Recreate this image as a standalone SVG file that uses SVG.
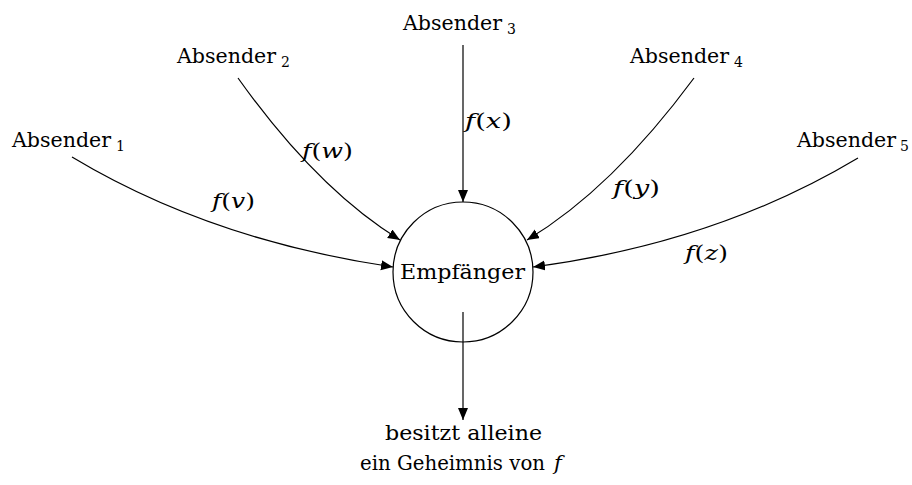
<svg xmlns="http://www.w3.org/2000/svg" width="912" height="485" viewBox="0 0 912 485">
<style>
.t{font-family:'DejaVu Serif','Liberation Serif',serif;font-size:21px;fill:#000}
.s{font-family:'DejaVu Serif','Liberation Serif',serif;font-size:14px;fill:#000}
.i{font-style:italic}
.c{fill:none;stroke:#000;stroke-width:1.2}
</style>
<defs>
<marker id="ah" markerUnits="userSpaceOnUse" markerWidth="14" markerHeight="12" refX="12" refY="5" orient="auto">
<path d="M0,0 L12,5 L0,10 Z" fill="#000"/>
</marker>
</defs>
<rect width="912" height="485" fill="#fff"/>
<g id="connectors">
<path class="c" d="M72,157 Q210,240 393,267" marker-end="url(#ah)"/>
<path class="c" d="M238,78 Q317,189 400,240" marker-end="url(#ah)"/>
<path class="c" d="M463,45 L463,202" marker-end="url(#ah)"/>
<path class="c" d="M694,78 Q612,189 527,240" marker-end="url(#ah)"/>
<path class="c" d="M858,158 Q716,243 533,267" marker-end="url(#ah)"/>
<path class="c" d="M463,312 L463,420" marker-end="url(#ah)"/>
</g>
<g id="labels">
<text class="t" x="212" y="208" textLength="43" lengthAdjust="spacingAndGlyphs"><tspan class="i">f</tspan>(<tspan class="i">v</tspan>)</text>
<text class="t" x="302" y="158" textLength="51" lengthAdjust="spacingAndGlyphs"><tspan class="i">f</tspan>(<tspan class="i">w</tspan>)</text>
<text class="t" x="465" y="128" textLength="47" lengthAdjust="spacingAndGlyphs"><tspan class="i">f</tspan>(<tspan class="i">x</tspan>)</text>
<text class="t" x="613" y="195" textLength="47" lengthAdjust="spacingAndGlyphs"><tspan class="i">f</tspan>(<tspan class="i">y</tspan>)</text>
<text class="t" x="685" y="260" textLength="43" lengthAdjust="spacingAndGlyphs"><tspan class="i">f</tspan>(<tspan class="i">z</tspan>)</text>
</g>
<g id="absender1">
<text class="t" x="12" y="147" textLength="99" lengthAdjust="spacingAndGlyphs">Absender</text>
<text class="s" x="116" y="151">1</text>
</g>
<g id="absender2">
<text class="t" x="177" y="63" textLength="99" lengthAdjust="spacingAndGlyphs">Absender</text>
<text class="s" x="281" y="67">2</text>
</g>
<g id="absender3">
<text class="t" x="403" y="30" textLength="99" lengthAdjust="spacingAndGlyphs">Absender</text>
<text class="s" x="507" y="34">3</text>
</g>
<g id="absender4">
<text class="t" x="630" y="63" textLength="99" lengthAdjust="spacingAndGlyphs">Absender</text>
<text class="s" x="734" y="67">4</text>
</g>
<g id="absender5">
<text class="t" x="797" y="147" textLength="99" lengthAdjust="spacingAndGlyphs">Absender</text>
<text class="s" x="900" y="151">5</text>
</g>
<g id="empfaenger">
<circle cx="463" cy="272" r="70" fill="none" stroke="#000" stroke-width="1.2"/>
<text class="t" x="400" y="279" textLength="125" lengthAdjust="spacingAndGlyphs">Empfänger</text>
</g>
<g id="geheimnis">
<text class="t" x="385" y="440" textLength="157" lengthAdjust="spacingAndGlyphs">besitzt alleine</text>
<text class="t" x="360" y="470" font-size="19.5" style="font-size:19.5px" textLength="185" lengthAdjust="spacingAndGlyphs">ein Geheimnis von</text>
<text class="t i" x="554" y="470">f</text>
</g>
</svg>
